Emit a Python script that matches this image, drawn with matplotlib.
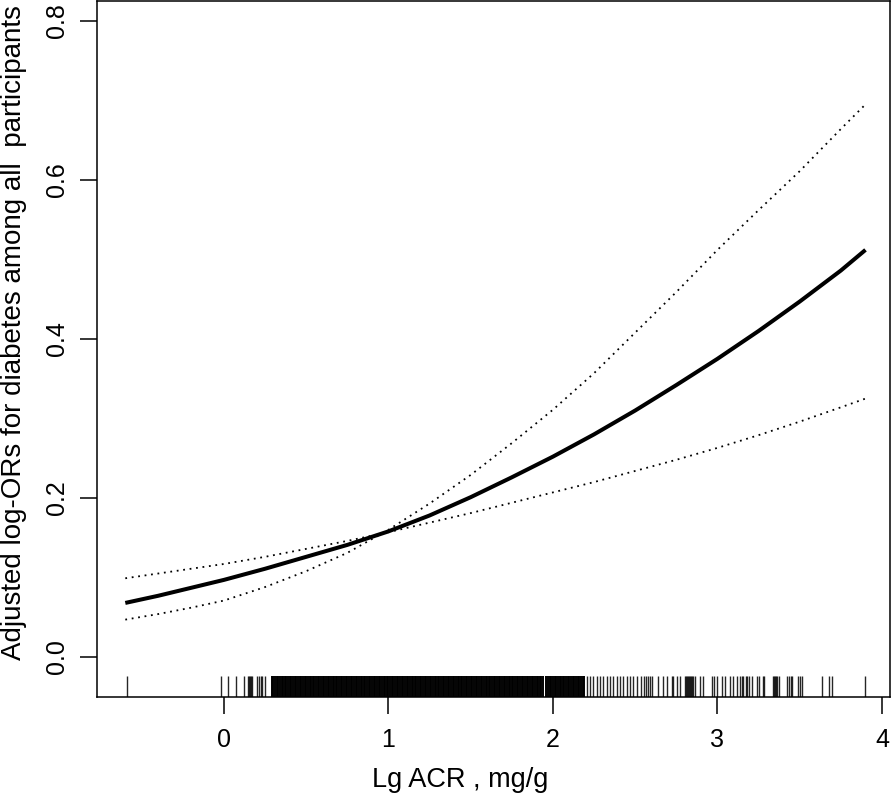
import matplotlib
matplotlib.use('Agg')
import matplotlib.pyplot as plt

plt.rcParams['font.family'] = ['Liberation Sans', 'DejaVu Sans']

# spline estimate (Lg ACR -> adjusted log-OR)
acr = [-0.6, -0.4, -0.2, 0.0, 0.25, 0.5, 0.75, 1.0, 1.25, 1.5,
       1.75, 2.0, 2.25, 2.5, 2.75, 3.0, 3.25, 3.5, 3.75, 3.9]
fit = [0.068, 0.077, 0.087, 0.097, 0.111, 0.126, 0.141, 0.158, 0.178, 0.201,
       0.226, 0.252, 0.280, 0.310, 0.342, 0.375, 0.410, 0.447, 0.486, 0.512]
# 95% CI bounds (they pinch at the reference value near 1)
ci_steep = [0.047, 0.054, 0.062, 0.071, 0.088, 0.108, 0.131, 0.160, 0.193, 0.229,
            0.269, 0.311, 0.357, 0.408, 0.459, 0.512, 0.562, 0.611, 0.664, 0.695]
ci_flat = [0.099, 0.105, 0.111, 0.117, 0.126, 0.136, 0.146, 0.157, 0.169, 0.181,
           0.194, 0.207, 0.220, 0.234, 0.248, 0.263, 0.279, 0.296, 0.314, 0.325]

# rug: observed Lg ACR values
rug_sparse = [-0.59, -0.018, 0.026, 0.073, 0.123, 0.148, 0.153, 0.158, 0.163, 0.168,
              0.199, 0.215, 0.222, 0.229, 0.249,
              2.205, 2.225, 2.245, 2.266, 2.286, 2.306, 2.326, 2.347, 2.367, 2.387,
              2.407, 2.427, 2.452, 2.468, 2.488, 2.508,
              2.535, 2.553, 2.565, 2.579, 2.590, 2.600, 2.640, 2.671, 2.691, 2.722,
              2.731, 2.752, 2.772, 2.802, 2.808, 2.815, 2.821, 2.827, 2.833, 2.839,
              2.846, 2.853, 2.863, 2.894, 2.914, 2.965, 2.979, 2.995, 3.026, 3.046,
              3.076, 3.096, 3.117, 3.137, 3.147, 3.157, 3.171, 3.181, 3.193, 3.208,
              3.242, 3.252, 3.275, 3.283, 3.339, 3.345, 3.350, 3.355, 3.360, 3.376,
              3.424, 3.435, 3.445, 3.455, 3.491, 3.502, 3.512, 3.633, 3.680, 3.696,
              3.900]
rug_dense = [0.29, 0.30, 0.31, 0.32, 0.33, 0.34, 0.35, 0.36, 0.37, 0.38,
             0.39, 0.40, 0.41, 0.42, 0.43, 0.44, 0.45, 0.46, 0.47, 0.48,
             0.49, 0.50, 0.51, 0.52, 0.53, 0.54, 0.55, 0.56, 0.57, 0.58,
             0.59, 0.60, 0.61, 0.62, 0.63, 0.64, 0.65, 0.66, 0.67, 0.68,
             0.69, 0.70, 0.71, 0.72, 0.73, 0.74, 0.75, 0.76, 0.77, 0.78,
             0.79, 0.80, 0.81, 0.82, 0.83, 0.84, 0.85, 0.86, 0.87, 0.88,
             0.89, 0.90, 0.91, 0.92, 0.93, 0.94, 0.95, 0.96, 0.97, 0.98,
             0.99, 1.00, 1.01, 1.02, 1.03, 1.04, 1.05, 1.06, 1.07, 1.08,
             1.09, 1.10, 1.11, 1.12, 1.13, 1.14, 1.15, 1.16, 1.17, 1.18,
             1.19, 1.20, 1.21, 1.22, 1.23, 1.24, 1.25, 1.26, 1.27, 1.28,
             1.29, 1.30, 1.31, 1.32, 1.33, 1.34, 1.35, 1.36, 1.37, 1.38,
             1.39, 1.40, 1.41, 1.42, 1.43, 1.44, 1.45, 1.46, 1.47, 1.48,
             1.49, 1.50, 1.51, 1.52, 1.53, 1.54, 1.55, 1.56, 1.57, 1.58,
             1.59, 1.60, 1.61, 1.62, 1.63, 1.64, 1.65, 1.66, 1.67, 1.68,
             1.69, 1.70, 1.71, 1.72, 1.73, 1.74, 1.75, 1.76, 1.77, 1.78,
             1.79, 1.80, 1.81, 1.82, 1.83, 1.84, 1.85, 1.86, 1.87, 1.88,
             1.89, 1.90, 1.91, 1.92, 1.93, 1.94, 1.955, 1.97, 1.98, 1.99,
             2.00, 2.01, 2.02, 2.03, 2.04, 2.05, 2.06, 2.07, 2.08, 2.09,
             2.10, 2.11, 2.12, 2.13, 2.14, 2.15, 2.16, 2.17, 2.18, 2.19]

x_ticks = [0, 1, 2, 3, 4]
y_ticks = [0.0, 0.2, 0.4, 0.6, 0.8]

fig = plt.figure(figsize=(8.96, 7.96), dpi=100)
ax = fig.add_axes([97 / 896, 99 / 796, 793 / 896, 696 / 796])

ax.plot(acr, fit, color='black', lw=2.9, solid_capstyle='butt', solid_joinstyle='round')
ax.plot(acr, ci_steep, color='black', lw=1.3, dashes=(1, 2.6))
ax.plot(acr, ci_flat, color='black', lw=1.3, dashes=(1, 2.6))

# rug along the bottom
rug_tr = ax.get_xaxis_transform()
ax.vlines(rug_sparse, 0, 0.03, transform=rug_tr, color='black', lw=1.0, alpha=0.85)
ax.vlines(rug_dense, 0, 0.03, transform=rug_tr, color='black', lw=1.4)

ax.set_xlim(-0.772, 4.049)
ax.set_ylim(-0.0503, 0.825)

ax.set_xticks(x_ticks)
ax.set_xticklabels([str(t) for t in x_ticks])
ax.set_yticks(y_ticks)
ax.set_yticklabels(['%.1f' % t for t in y_ticks], rotation=90, va='center')

ax.tick_params(direction='out', length=12, width=1.1, labelsize=18, color='black')
ax.tick_params(axis='x', pad=10)
ax.tick_params(axis='y', pad=8)
for s in ax.spines.values():
    s.set_linewidth(1.1)

ax.set_xlabel('Lg ACR , mg/g', fontsize=19.5)
ax.xaxis.set_label_coords(0.458, -0.101)
ax.set_ylabel('Adjusted log-ORs for diabetes among all  participants', fontsize=20)
ax.yaxis.set_label_coords(-0.088, 0.523)

fig.savefig('out.png', dpi=100)
